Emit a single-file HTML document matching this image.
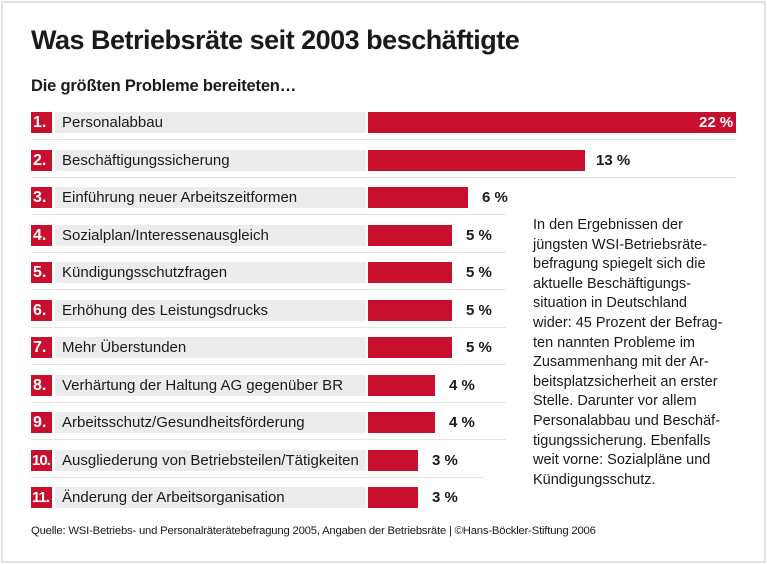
<!DOCTYPE html>
<html><head><meta charset="utf-8"><style>
*{margin:0;padding:0;box-sizing:border-box}
body{width:767px;height:564px;background:#fff;font-family:"Liberation Sans",sans-serif;color:#1a1a1a;position:relative;overflow:hidden}
.frame{position:absolute;left:1px;top:1px;width:765px;height:562px;border:2px solid #e2e2e2}
.t{position:absolute;white-space:nowrap}
.badge{position:absolute;left:31px;height:21px;background:#c8102e;color:#fff;font-weight:bold;font-size:16px;line-height:21px;padding-left:2px}
.gray{position:absolute;left:55px;width:311px;height:21px;background:#ececec;font-size:15px;line-height:21px;padding-left:7px}
.bar{position:absolute;left:368px;height:21px;background:#c8102e}
.val{position:absolute;font-weight:bold;font-size:15px;line-height:21px}
.sep{position:absolute;left:31px;height:1px;background:#e4e4e4}
.side{position:absolute;left:533px;top:216px;font-size:14.5px;line-height:19.6px;color:#1a1a1a}
</style></head><body>
<div class="frame"></div>
<div class="t" style="left:31px;top:25px;font-size:27px;font-weight:bold;letter-spacing:-0.5px">Was Betriebsräte seit 2003 beschäftigte</div>
<div class="t" style="left:31px;top:77px;font-size:16.5px;font-weight:bold;letter-spacing:-0.2px">Die größten Probleme bereiteten…</div>

<div class="badge" style="top:112px;width:21px">1.</div><div class="gray" style="top:112px">Personalabbau</div><div class="bar" style="top:112px;width:368px"></div><div class="val" style="top:112px;left:699px;color:#fff">22 %</div><div class="sep" style="top:139px;width:706px"></div>
<div class="badge" style="top:149.5px;width:21px">2.</div><div class="gray" style="top:149.5px">Beschäftigungssicherung</div><div class="bar" style="top:149.5px;width:217px"></div><div class="val" style="top:149.5px;left:596px">13 %</div><div class="sep" style="top:176.5px;width:706px"></div>
<div class="badge" style="top:187px;width:21px">3.</div><div class="gray" style="top:187px">Einführung neuer Arbeitszeitformen</div><div class="bar" style="top:187px;width:100px"></div><div class="val" style="top:187px;left:482px">6 %</div><div class="sep" style="top:214px;width:475px"></div>
<div class="badge" style="top:224.5px;width:21px">4.</div><div class="gray" style="top:224.5px">Sozialplan/Interessenausgleich</div><div class="bar" style="top:224.5px;width:84px"></div><div class="val" style="top:224.5px;left:466px">5 %</div><div class="sep" style="top:251.5px;width:475px"></div>
<div class="badge" style="top:262px;width:21px">5.</div><div class="gray" style="top:262px">Kündigungsschutzfragen</div><div class="bar" style="top:262px;width:84px"></div><div class="val" style="top:262px;left:466px">5 %</div><div class="sep" style="top:289px;width:475px"></div>
<div class="badge" style="top:299.5px;width:21px">6.</div><div class="gray" style="top:299.5px">Erhöhung des Leistungsdrucks</div><div class="bar" style="top:299.5px;width:84px"></div><div class="val" style="top:299.5px;left:466px">5 %</div><div class="sep" style="top:326.5px;width:475px"></div>
<div class="badge" style="top:337px;width:21px">7.</div><div class="gray" style="top:337px">Mehr Überstunden</div><div class="bar" style="top:337px;width:84px"></div><div class="val" style="top:337px;left:466px">5 %</div><div class="sep" style="top:364px;width:475px"></div>
<div class="badge" style="top:374.5px;width:21px">8.</div><div class="gray" style="top:374.5px">Verhärtung der Haltung AG gegenüber BR</div><div class="bar" style="top:374.5px;width:67px"></div><div class="val" style="top:374.5px;left:449px">4 %</div><div class="sep" style="top:401.5px;width:475px"></div>
<div class="badge" style="top:412px;width:21px">9.</div><div class="gray" style="top:412px">Arbeitsschutz/Gesundheitsförderung</div><div class="bar" style="top:412px;width:67px"></div><div class="val" style="top:412px;left:449px">4 %</div><div class="sep" style="top:439px;width:475px"></div>
<div class="badge" style="top:449.5px;width:21px;font-size:15px;letter-spacing:-1px;padding-left:1px">10.</div><div class="gray" style="top:449.5px">Ausgliederung von Betriebsteilen/Tätigkeiten</div><div class="bar" style="top:449.5px;width:50px"></div><div class="val" style="top:449.5px;left:432px">3 %</div><div class="sep" style="top:476.5px;width:452px"></div>
<div class="badge" style="top:487px;width:21px;font-size:15px;letter-spacing:-1px;padding-left:1px">11.</div><div class="gray" style="top:487px">Änderung der Arbeitsorganisation</div><div class="bar" style="top:487px;width:50px"></div><div class="val" style="top:487px;left:432px">3 %</div>

<div class="side">In den Ergebnissen der<br>jüngsten WSI-Betriebsräte-<br>befragung spiegelt sich die<br>aktuelle Beschäftigungs-<br>situation in Deutschland<br>wider: 45 Prozent der Befrag-<br>ten nannten Probleme im<br>Zusammenhang mit der Ar-<br>beitsplatzsicherheit an erster<br>Stelle. Darunter vor allem<br>Personalabbau und Beschäf-<br>tigungssicherung. Ebenfalls<br>weit vorne: Sozialpläne und<br>Kündigungsschutz.</div>

<div class="t" style="left:31px;top:525px;font-size:11.3px;letter-spacing:-0.2px">Quelle: WSI-Betriebs- und Personalräterätebefragung 2005, Angaben der Betriebsräte | ©Hans-Böckler-Stiftung 2006</div>
</body></html>
